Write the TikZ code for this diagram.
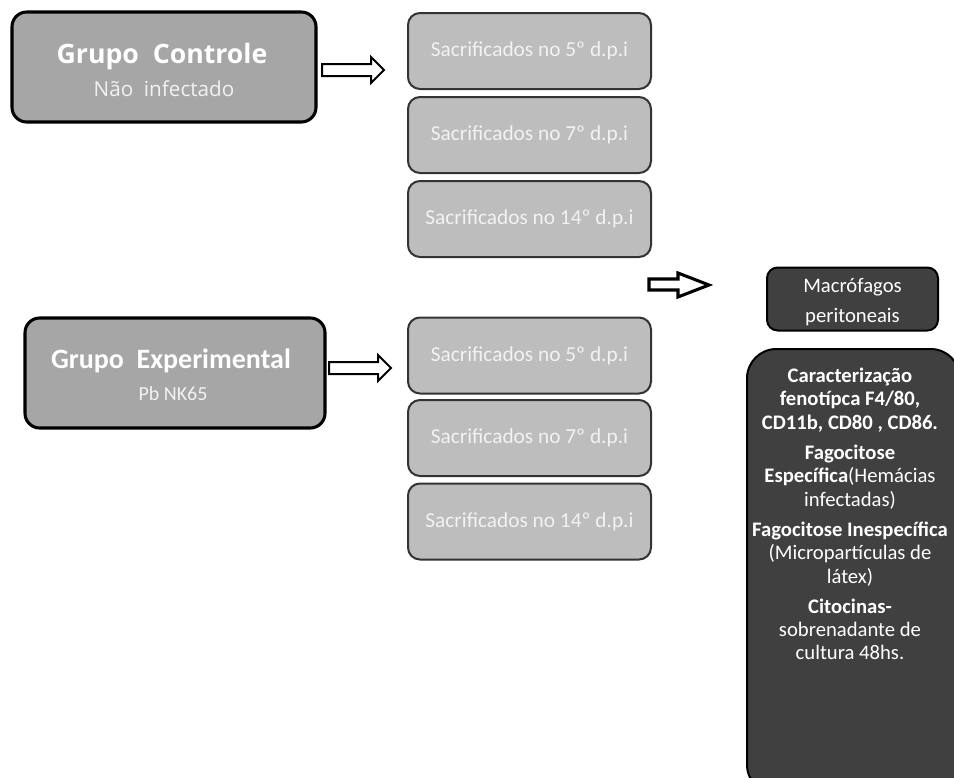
\documentclass[tikz,border=0pt]{standalone}
\usepackage{fontspec}
\setmainfont{Carlito}
\newfontfamily\osans{Open Sans}
\usetikzlibrary{calc}
\definecolor{grpfill}{HTML}{A6A6A6}
\definecolor{sacfill}{HTML}{BDBDBD}
\definecolor{darkfill}{HTML}{404040}
\definecolor{sacline}{HTML}{333333}
\definecolor{paletext}{HTML}{F2F2F2}
\begin{document}
\begin{tikzpicture}[x=0.75pt,y=-0.75pt,
  grpbox/.style={draw=black, line width=2.3pt, fill=grpfill, rounded corners=11pt,
    minimum width=300*0.75pt, minimum height=110*0.75pt, inner sep=0pt},
  grptext/.style={anchor=base, inner sep=0pt, text=white},
  sacbox/.style={draw=sacline, line width=1.5pt, fill=sacfill, rounded corners=9pt,
    minimum width=243*0.75pt, minimum height=76*0.75pt, inner sep=0pt, text=paletext,
    font=\fontsize{16}{19}\selectfont},
  darkbox/.style={draw=black, line width=1.5pt, fill=darkfill, inner sep=0pt},
  harrow/.style={draw=black, fill=white, line width=1.5pt, line join=miter}]
\useasboundingbox (0,0) rectangle (954,778);

% group boxes
\node[grpbox, minimum width=304*0.75pt] (gc) at (164,67) {};
\node[grptext, font=\osans\bfseries\fontsize{20}{24}\selectfont] (gct) at (162,63) {Grupo\ \ Controle};
\node[grptext, text=paletext, font=\osans\fontsize{15.5}{19}\selectfont] (gcs) at (164,96) {Não\ \ infectado};

\node[grpbox] (ge) at (175,373) {};
\node[grptext, font=\bfseries\fontsize{21}{25}\selectfont] (get) at (171,368) {Grupo\ \ Experimental};
\node[grptext, text=paletext, font=\fontsize{15}{18}\selectfont] (ges) at (173,400) {Pb NK65};

% sacrificados - control
\node[sacbox] (c5)  at (529.5,51)  {Sacrificados no 5º d.p.i};
\node[sacbox] (c7)  at (529.5,135) {Sacrificados no 7º d.p.i};
\node[sacbox] (c14) at (529.5,219) {Sacrificados no 14º d.p.i};
% sacrificados - experimental
\node[sacbox] (e5)  at (529.5,355.5) {Sacrificados no 5º d.p.i};
\node[sacbox] (e7)  at (529.5,438)   {Sacrificados no 7º d.p.i};
\node[sacbox] (e14) at (529.5,521.5) {Sacrificados no 14º d.p.i};

% hollow arrows
\draw[harrow] (322,64)--(371,64)--(371,57)--(384,70)--(371,83)--(371,76)--(322,76)--cycle;
\draw[harrow] (329,362)--(378,362)--(378,355)--(391,368)--(378,381)--(378,374)--(329,374)--cycle;
\draw[harrow, line width=2.3pt] (649,279)--(678,279)--(678,273)--(709,285)--(678,297)--(678,290)--(649,290)--cycle;

% macrofagos
\node[darkbox, rounded corners=8pt, minimum width=171*0.75pt, minimum height=63*0.75pt] (mp) at (852.5,299) {};
\node[text=white, align=center, inner sep=0pt, font=\fontsize{15.5}{22.5}\selectfont] (mpt) at (852.5,302)
  {Macrófagos\\peritoneais};

% big box
\begin{scope}
\clip (0,0) rectangle (954,778);
\node[darkbox, rounded corners=22pt, minimum width=213*0.75pt, minimum height=445*0.75pt] (bb) at (853.5,571.5) {};
\end{scope}
\node[anchor=north, text=white, align=center, inner sep=0pt,
  font=\fontsize{15.5}{17.4}\selectfont] (bt) at (850,368)
  {\textbf{Caracterização}\\
   \textbf{fenotípca F4/80,}\\
   \textbf{CD11b, CD80 , CD86.}\\[5.5pt]
   \textbf{Fagocitose}\\
   \textbf{Específica}(Hemácias\\
   infectadas)\\[5.5pt]
   \textbf{Fagocitose Inespecífica}\\
   (Micropartículas de\\
   látex)\\[5.5pt]
   \textbf{Citocinas-}\\
   sobrenadante de\\
   cultura 48hs.};
\end{tikzpicture}
\end{document}
